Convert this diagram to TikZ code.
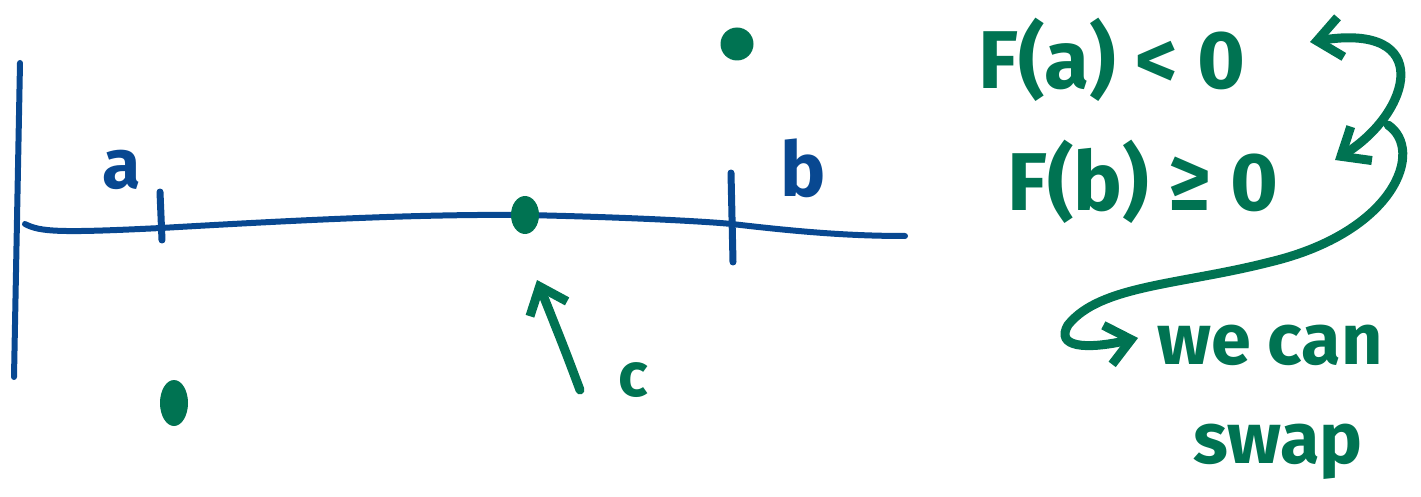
\documentclass[tikz,border=0pt]{standalone}
\usepackage{fontspec}
\setmainfont{Fira Sans}
\usetikzlibrary{arrows.meta,shapes.geometric}
\definecolor{inkblue}{RGB}{8,72,145}
\definecolor{inkgreen}{RGB}{0,115,82}
\begin{document}
\begin{tikzpicture}[x=1pt,y=-1pt,
  blueline/.style={inkblue, line width=6pt, line cap=round, line join=round},
  tickline/.style={inkblue, line width=7pt, line cap=round},
  greenline/.style={inkgreen, line width=9pt, line cap=round, line join=round},
  barb/.tip={Straight Barb[length=24pt,width=40pt]},
  dot/.style={ellipse, fill=inkgreen, draw=none, inner sep=0pt},
  bluelabel/.style={text=inkblue, inner sep=0pt, font=\bfseries},
  greenlabel/.style={text=inkgreen, inner sep=0pt}]
\useasboundingbox (0,0) rectangle (1421,497);

% axes
\coordinate (ytop) at (20,63);
\coordinate (ybot) at (14,377);
\draw[blueline] (ytop) -- (ybot);

\coordinate (xs) at (25,224);
\coordinate (xa) at (161,228);
\coordinate (xc) at (525,215);
\coordinate (xb) at (732,224);
\coordinate (xe) at (905,236);
\draw[blueline] (xs) .. controls (40,232) and (60,233) .. (xa)
  .. controls (300,220) and (420,214) .. (xc)
  .. controls (620,217) and (700,221) .. (xb)
  .. controls (800,232) and (850,236) .. (xe);

% ticks
\coordinate (ta1) at (160,192); \coordinate (ta2) at (162,240);
\coordinate (tb1) at (731,173); \coordinate (tb2) at (733,262);
\draw[tickline] (ta1) -- (ta2);
\draw[tickline] (tb1) -- (tb2);

% labels a, b
\node[bluelabel, font=\bfseries\fontsize{70}{74}\selectfont] (la) at (122,170) {a};
\node[bluelabel, font=\bfseries\fontsize{76}{80}\selectfont] (lb) at (803,168) {b};

% dots
\node[dot, minimum width=28pt, minimum height=38pt] (c) at (525,215) {};
\node[dot, minimum width=28pt, minimum height=46pt] (d1) at (174,403) {};
\node[dot, minimum width=33pt, minimum height=33pt] (d2) at (737,44) {};

% arrow to c
\node[greenlabel, font=\bfseries\fontsize{62}{66}\selectfont] (lc) at (633,380) {c};
\coordinate (ctail) at (580,390);
\coordinate (chead) at (537,280);
\draw[greenline, -barb] (ctail) .. controls (565,350) .. (chead);

% right side text
\node[greenlabel, font=\bfseries\fontsize{82}{86}\selectfont] (fa) at (1112,60) {F(a) < 0};
\node[greenlabel, font=\bfseries\fontsize{82}{86}\selectfont] (fb) at (1143,182) {F(b) ≥ 0};
\node[greenlabel, font=\bfseries\fontsize{72}{76}\selectfont] (we) at (1270,345) {we can};
\node[greenlabel, font=\bfseries\fontsize{72}{76}\selectfont] (sw) at (1278,452) {swap};

% swap arrows
\coordinate (s1) at (1310,42);
\coordinate (e1) at (1335,160);
\draw[greenline, barb-barb] (s1) .. controls (1435,22) and (1412,112) .. (e1);
\coordinate (s2) at (1388,125);
\coordinate (m2) at (1270,262);
\coordinate (e2) at (1138,338);
\draw[greenline, -barb] (s2) .. controls (1425,150) and (1395,232) .. (m2)
  .. controls (1180,285) and (1100,285) .. (1068,325)
  .. controls (1055,347) and (1085,350) .. (e2);
\end{tikzpicture}
\end{document}
